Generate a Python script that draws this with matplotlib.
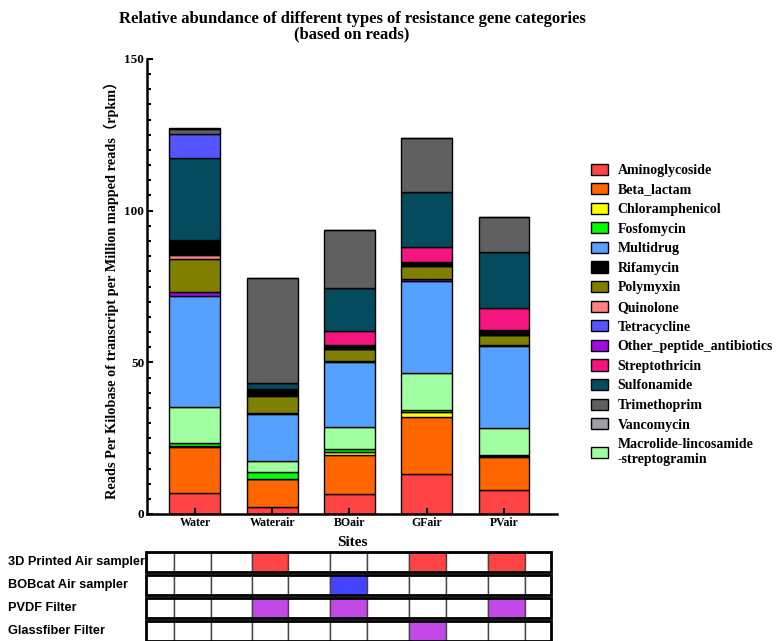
import numpy as np
import matplotlib
matplotlib.use("Agg")
import matplotlib.pyplot as plt
import matplotlib.patches as ptc
import matplotlib.transforms as mtransforms
from matplotlib.ticker import MultipleLocator

# Sites and resistance gene categories (rpkm), stacked bottom -> top
sites = ["Water", "Waterair", "BOair", "GFair", "PVair"]

aminoglycoside = [6.8, 2.2, 6.7, 13.1, 7.9]
beta_lactam = [15.2, 9.3, 12.6, 19.0, 10.8]
chloramphenicol = [0.3, 0.2, 1.3, 1.4, 0.5]
fosfomycin = [1.0, 2.0, 0.7, 0.9, 0.4]
macrolide = [12.1, 3.9, 7.3, 12.2, 8.9]
multidrug = [36.6, 15.5, 21.4, 30.3, 27.0]
other_peptide = [1.1, 0.1, 0.3, 0.5, 0.3]
polymyxin = [10.9, 5.8, 4.1, 4.4, 3.2]
quinolone = [1.3, 0.1, 0.1, 0.1, 0.1]
rifamycin = [5.0, 2.1, 1.2, 1.3, 1.6]
streptothricin = [0.0, 0.0, 4.5, 4.8, 7.3]
sulfonamide = [26.9, 2.1, 14.3, 18.1, 18.5]
tetracycline = [8.0, 0.0, 0.0, 0.0, 0.0]
trimethoprim = [1.8, 34.6, 19.1, 17.9, 11.4]
vancomycin = [0.3, 0.0, 0.1, 0.1, 0.1]

# sampler / filter used at each site
sampler_rows = ["3D Printed Air sampler", "BOBcat Air sampler", "PVDF Filter", "Glassfiber Filter"]
sampler_used = [
    [0, 1, 0, 1, 1],
    [0, 0, 1, 0, 0],
    [0, 1, 1, 0, 1],
    [0, 0, 0, 1, 0],
]
sampler_colors = ["#FF4444", "#4444FF", "#C248E8", "#C248E8"]

categories = [
    ("Aminoglycoside", aminoglycoside, "#FF4444"),
    ("Beta_lactam", beta_lactam, "#FF6600"),
    ("Chloramphenicol", chloramphenicol, "#FFFF00"),
    ("Fosfomycin", fosfomycin, "#00FF00"),
    ("Macrolide-lincosamide\n-streptogramin", macrolide, "#A0FFA0"),
    ("Multidrug", multidrug, "#55A1FF"),
    ("Other_peptide_antibiotics", other_peptide, "#A10AE0"),
    ("Polymyxin", polymyxin, "#808000"),
    ("Quinolone", quinolone, "#FF8080"),
    ("Rifamycin", rifamycin, "#000000"),
    ("Streptothricin", streptothricin, "#F5157E"),
    ("Sulfonamide", sulfonamide, "#044B5E"),
    ("Tetracycline", tetracycline, "#5555FF"),
    ("Trimethoprim", trimethoprim, "#606060"),
    ("Vancomycin", vancomycin, "#A0A0A4"),
]
legend_order = ["Aminoglycoside", "Beta_lactam", "Chloramphenicol", "Fosfomycin",
                "Multidrug", "Rifamycin", "Polymyxin", "Quinolone", "Tetracycline",
                "Other_peptide_antibiotics", "Streptothricin", "Sulfonamide",
                "Trimethoprim", "Vancomycin", "Macrolide-lincosamide\n-streptogramin"]

serif = ["Liberation Serif", "DejaVu Serif"]
plt.rcParams["font.family"] = serif
plt.rcParams["font.weight"] = "bold"

fig = plt.figure(figsize=(7.77, 6.41), dpi=100)
ax = fig.add_axes([147 / 777, 127 / 641, 410 / 777, 455 / 641])

x = np.arange(len(sites))
bottom = np.zeros(len(sites))
colors = {}
for name, vals, col in categories:
    ax.bar(x, vals, width=0.66, bottom=bottom, color=col, edgecolor="black", linewidth=1.0)
    bottom += np.array(vals)
    colors[name] = col

ax.set_xlim(-0.621, 4.686)
ax.set_ylim(0, 150)
ax.set_yticks([0, 50, 100, 150])
ax.yaxis.set_minor_locator(MultipleLocator(5))
ax.set_xticks(x)
ax.set_xticklabels(sites, fontsize=8.5, fontweight="bold")
for lab in ax.get_yticklabels():
    lab.set_fontsize(9.5)
    lab.set_fontweight("bold")
ax.tick_params(axis="both", which="major", direction="in", length=4, width=1.5, pad=2)
ax.tick_params(axis="y", which="minor", direction="in", length=3, width=1.5)
for s in ["top", "right"]:
    ax.spines[s].set_visible(False)
for s in ["left", "bottom"]:
    ax.spines[s].set_linewidth(1.8)

ax.set_ylabel("Reads Per Kilobase of transcript per Million mapped reads\uff08rpkm\uff09",
              fontsize=10.3, fontweight="bold", family=serif + ["Noto Sans CJK SC"], labelpad=4)
ax.set_title("Relative abundance of different types of resistance gene categories\n(based on reads)",
             fontsize=12, fontweight="bold", pad=15, linespacing=0.95)
fig.text(352 / 777, 1 - 543 / 641, "Sites", ha="center", va="center", fontsize=11, fontweight="bold")

handles = [ptc.Patch(facecolor=colors[n], edgecolor="black", linewidth=1.0) for n in legend_order]
fig.legend(handles, legend_order, loc="upper left", bbox_to_anchor=(578 / 777, 1 - 151 / 641),
           frameon=False, prop={"family": serif, "weight": "bold", "size": 10},
           handlelength=1.25, handleheight=0.85, handletextpad=0.7, labelspacing=0.45)

# sampler table under the bars
tax = fig.add_axes([147 / 777, 0, 410 / 777, 92 / 641])
tax.set_xlim(ax.get_xlim())
tax.set_ylim(4, 0)
tax.axis("off")
edges = [-0.634, -0.27, 0.21, 0.74, 1.205, 1.748, 2.228, 2.77, 3.25, 3.79, 4.27, 4.61]
trans = mtransforms.blended_transform_factory(fig.transFigure, tax.transData)
for r, (label, used, col) in enumerate(zip(sampler_rows, sampler_used, sampler_colors)):
    y0, h = r + 0.13, 0.85
    for c in range(len(edges) - 1):
        fc = "white"
        if c % 2 == 1 and used[c // 2]:
            fc = col
        tax.add_patch(ptc.Rectangle((edges[c], y0), edges[c + 1] - edges[c], h,
                                    facecolor=fc, edgecolor="#444444", linewidth=1.0, clip_on=False))
    tax.add_patch(ptc.Rectangle((edges[0], y0), edges[-1] - edges[0], h, facecolor="none",
                                edgecolor="black", linewidth=2.0, clip_on=False))
    tax.text(8 / 777, y0 + h / 2, label, transform=trans, ha="left", va="center",
             fontsize=9.2, fontweight="bold", family=["Liberation Sans", "DejaVu Sans"])

fig.savefig("out.png", dpi=100)
